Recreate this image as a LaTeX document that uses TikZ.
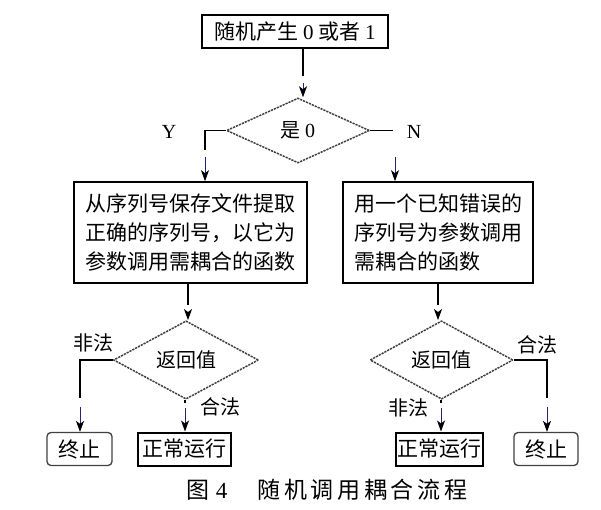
\documentclass[tikz,border=0pt]{standalone}
\usepackage{fontspec}
\setmainfont{Liberation Serif}
\newfontfamily\cjk{Noto Sans CJK SC}
\newfontfamily\cjkcap[LetterSpace=16]{Noto Sans CJK SC}
\usepackage{xcolor}
\usepackage{tikz}
\usetikzlibrary{arrows.meta,shapes.geometric}
\definecolor{arrowblue}{HTML}{23237A}

\begin{document}
\begin{tikzpicture}[x=1pt,y=-1pt,
    box/.style={draw, line width=1.6pt, inner sep=0pt, minimum height=33pt,
        font={\cjk\fontsize{21}{29}\selectfont}},
    endbox/.style={draw=black!75, line width=1.3pt, rounded corners=4pt, inner sep=0pt,
        minimum height=33pt, font={\cjk\fontsize{21}{29}\selectfont}},
    test/.style={diamond, draw=black!75, line width=1.5pt, dash pattern=on 2.2pt off 1pt,
        inner sep=0pt, font={\cjk\fontsize{20}{24}\selectfont}},
    lab/.style={font={\cjk\fontsize{20}{24}\selectfont}},
    wire/.style={line width=1.6pt},
    tip/.style={draw=arrowblue, line width=0.9pt, -{Stealth[length=11pt,width=8pt,inset=3pt,black]}},
    captext/.style={font={\cjkcap\fontsize{23}{28}\selectfont}}]
\useasboundingbox (0,0) rectangle (601,510);

% Start
\node[box, minimum width=186pt] (start) at (295,31.5) {随机产生 {\rmfamily 0} 或者 {\rmfamily 1}};
\node[test, minimum width=143pt, minimum height=65pt] (isz) at (298,130.5) {是 {\rmfamily 0}};

\coordinate (a1) at (303,76);
\coordinate (a2) at (303,83);
\draw[wire] (start.south -| a1) -- (a1);
\draw[tip] (a2) -- (isz.north -| a2);

% Two calls
\node[box, minimum width=233pt, minimum height=101pt, align=left] (good) at (190.5,232.5)
    {从序列号保存文件提取\\正确的序列号，以它为\\参数调用需耦合的函数};
\node[box, minimum width=190pt, minimum height=101pt, align=left] (bad) at (438,232.5)
    {用一个已知错误的\\序列号为参数调用\\需耦合的函数};

\coordinate (y1) at (205,150);
\coordinate (y2) at (205,157);
\draw[wire] (isz.west) -| (y1);
\draw[tip] (y2) -- (good.north -| y2);
\node[lab] (ylab) at (169,132) {\rmfamily Y};

\coordinate (n1) at (393,130.5);
\coordinate (n2) at (395,157);
\draw[wire] (isz.east) -- (n1);
\draw[tip] (n2) -- (bad.north -| n2);
\node[lab] (nlab) at (414,132) {\rmfamily N};

% Return values
\node[test, minimum width=145pt, minimum height=64pt] (lret) at (186,360) {返回值};
\node[test, minimum width=143pt, minimum height=64pt] (rret) at (441.5,360) {返回值};

\coordinate (b1) at (188,305);
\coordinate (b2) at (188,313);
\draw[wire] (good.south -| b1) -- (b1);
\draw[tip] (b2) -- (lret.north -| b2);

\coordinate (e1) at (438,305);
\coordinate (e2) at (438,313);
\draw[wire] (bad.south -| e1) -- (e1);
\draw[tip] (e2) -- (rret.north -| e2);

% Ends
\node[endbox, minimum width=65pt] (lstop) at (79.5,449) {终止};
\node[box, line width=2pt, minimum width=93pt] (lrun) at (184.5,449) {正常运行};
\node[box, line width=2pt, minimum width=87pt] (rrun) at (439.5,449) {正常运行};
\node[endbox, minimum width=64pt] (rstop) at (546,449) {终止};

\coordinate (c1) at (80,398);
\coordinate (c2) at (80,407);
\draw[wire] (lret.west) -| (c1);
\draw[tip] (c2) -- (lstop.north -| c2);
\node[lab] (lbad) at (93,343) {非法};

\coordinate (d1) at (185,403);
\coordinate (d2) at (185,408);
\draw[wire] (lret.south -| d1) -- (d1);
\draw[tip] (d2) -- (lrun.north -| d2);
\node[lab] (lok) at (220,407) {合法};

\coordinate (f1) at (547,398);
\coordinate (f2) at (547,407);
\draw[wire] (rret.east) -| (f1);
\draw[tip] (f2) -- (rstop.north -| f2);
\node[lab] (rok) at (537,345) {合法};

\coordinate (g1) at (441,403);
\coordinate (g2) at (441,408);
\draw[wire] (rret.south -| g1) -- (g1);
\draw[tip] (g2) -- (rrun.north -| g2);
\node[lab] (rbad) at (408,408) {非法};

% Caption
\node[captext] (title) at (327,490) {图\hspace{6pt}{\rmfamily 4}\hspace{30pt}随机调用耦合流程};
\end{tikzpicture}
\end{document}
